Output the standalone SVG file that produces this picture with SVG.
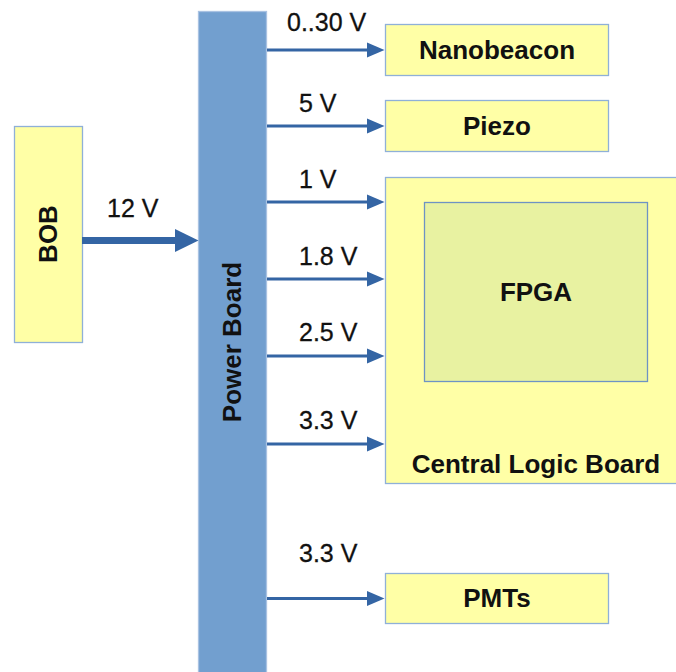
<svg xmlns="http://www.w3.org/2000/svg" width="676" height="672" viewBox="0 0 676 672">
<style>
.box{fill:#ffffa6;stroke:#8fb0d8;stroke-width:1.3}
.fpga{fill:#e8f2a1;stroke:#6e93c4;stroke-width:1.3}
.pb{fill:#729fcf;stroke:#a9c2e2;stroke-width:1.3}
.lbl{font-family:"Liberation Sans",Arial,sans-serif;font-size:26px;font-weight:bold;fill:#111}
.v{font-family:"Liberation Sans",Arial,sans-serif;font-size:25px;fill:#111;stroke:#111;stroke-width:0.3}
.ln{stroke:#3465a4;stroke-width:3;fill:none}
.ah{fill:#3465a4}
</style>
<rect width="676" height="672" fill="#ffffff"/>
<g id="bob">
<rect class="box" x="14.5" y="126.5" width="68" height="216"/>
<text class="lbl" text-anchor="middle" transform="translate(57,234) rotate(-90)">BOB</text>
</g>
<g id="power-board">
<rect class="pb" x="198.5" y="11.5" width="68" height="670"/>
<text class="lbl" text-anchor="middle" transform="translate(241,342) rotate(-90)">Power Board</text>
</g>
<g id="nanobeacon">
<rect class="box" x="385.5" y="24.5" width="223" height="51"/>
<text class="lbl" x="497" y="58.5" text-anchor="middle">Nanobeacon</text>
</g>
<g id="piezo">
<rect class="box" x="385.5" y="100.5" width="223" height="51"/>
<text class="lbl" x="497" y="134.5" text-anchor="middle">Piezo</text>
</g>
<g id="central-logic-board">
<rect class="box" x="385.5" y="177.5" width="300" height="306"/>
<text class="lbl" x="536" y="472.5" text-anchor="middle">Central Logic Board</text>
</g>
<g id="fpga">
<rect class="fpga" x="424.5" y="202.5" width="223" height="179"/>
<text class="lbl" x="536" y="300.5" text-anchor="middle">FPGA</text>
</g>
<g id="pmts">
<rect class="box" x="385.5" y="573.5" width="223" height="50"/>
<text class="lbl" x="497" y="606.5" text-anchor="middle">PMTs</text>
</g>
<g id="connectors">
<line x1="82" y1="240.5" x2="177" y2="240.5" stroke="#3465a4" stroke-width="7"/>
<polygon class="ah" points="175,229 198.5,240.5 175,252"/>
<text class="v" x="107" y="217">12 V</text>

<line class="ln" x1="267" y1="50" x2="370" y2="50"/>
<polygon class="ah" points="367,42.5 384.5,50 367,57.5"/>
<text class="v" x="287" y="31">0..30 V</text>

<line class="ln" x1="267" y1="126" x2="370" y2="126"/>
<polygon class="ah" points="367,118.5 384.5,126 367,133.5"/>
<text class="v" x="299" y="112">5 V</text>

<line class="ln" x1="267" y1="202" x2="370" y2="202"/>
<polygon class="ah" points="367,194.5 384.5,202 367,209.5"/>
<text class="v" x="299" y="188">1 V</text>

<line class="ln" x1="267" y1="279" x2="370" y2="279"/>
<polygon class="ah" points="367,271.5 384.5,279 367,286.5"/>
<text class="v" x="299" y="265">1.8 V</text>

<line class="ln" x1="267" y1="356" x2="370" y2="356"/>
<polygon class="ah" points="367,348.5 384.5,356 367,363.5"/>
<text class="v" x="299" y="341">2.5 V</text>

<line class="ln" x1="267" y1="444" x2="370" y2="444"/>
<polygon class="ah" points="367,436.5 384.5,444 367,451.5"/>
<text class="v" x="299" y="429">3.3 V</text>

<line class="ln" x1="267" y1="598.5" x2="370" y2="598.5"/>
<polygon class="ah" points="367,591 384.5,598.5 367,606"/>
<text class="v" x="299" y="562">3.3 V</text>
</g>
</svg>
